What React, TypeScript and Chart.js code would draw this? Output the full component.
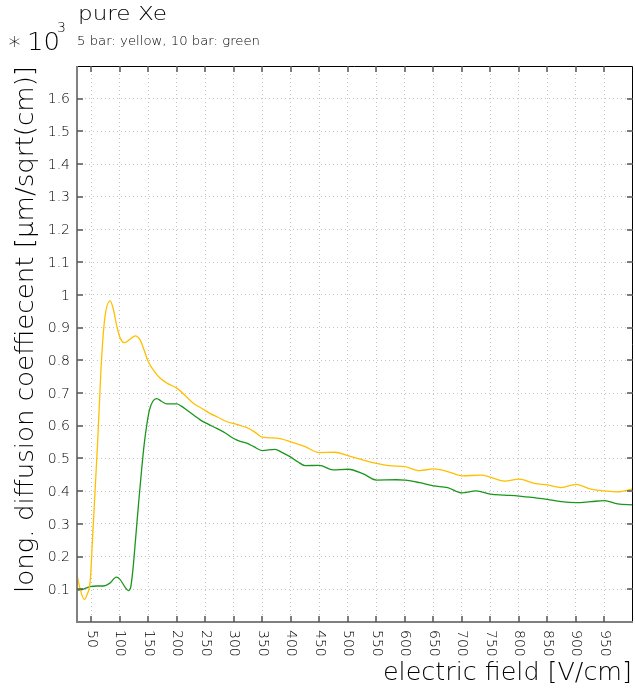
import React, { useEffect, useRef } from "react";
import { Chart, registerables } from "chart.js";

Chart.register(...registerables);

// ---- data (values in units of 10^3) ----
const yellowX = [25, 30.8, 37.8, 42.5, 48.3, 52.4, 61.7, 67, 73.4, 83.3, 89, 95, 100.8, 108.3, 118.3, 127, 135.8, 150, 160, 171, 185, 200, 215, 229, 245, 258, 272, 287, 305, 322, 335, 350, 375, 400, 425, 450, 477, 500, 527, 550, 573, 600, 626, 650, 675, 700, 734, 750, 775, 800, 827, 850, 874, 900, 926, 950, 973, 1000];
const yellowY = [0.144, 0.098, 0.069, 0.083, 0.128, 0.261, 0.567, 0.771, 0.924, 0.982, 0.954, 0.903, 0.868, 0.854, 0.865, 0.875, 0.862, 0.796, 0.768, 0.745, 0.728, 0.715, 0.692, 0.669, 0.652, 0.638, 0.626, 0.613, 0.604, 0.595, 0.583, 0.565, 0.562, 0.551, 0.536, 0.518, 0.519, 0.509, 0.495, 0.485, 0.478, 0.475, 0.463, 0.468, 0.46, 0.447, 0.449, 0.443, 0.431, 0.437, 0.424, 0.419, 0.411, 0.421, 0.406, 0.401, 0.398, 0.407];

const greenX = [25, 35, 48, 60, 71.5, 82, 94, 100, 108, 115, 119, 123, 128, 133, 138, 143, 148, 152, 158, 165, 173, 182.5, 200, 208, 217.5, 230, 241, 255, 270, 285, 299, 310, 322.5, 335, 350, 372, 385, 400, 412, 425, 450, 474, 500, 527, 550, 585, 600, 626, 650, 675, 700, 725, 750, 775, 800, 827, 850, 874, 900, 926, 950, 973, 1000];
const greenY = [0.096, 0.1, 0.108, 0.11, 0.11, 0.118, 0.137, 0.131, 0.11, 0.096, 0.105, 0.159, 0.26, 0.363, 0.46, 0.546, 0.61, 0.648, 0.675, 0.683, 0.675, 0.667, 0.667, 0.66, 0.648, 0.632, 0.618, 0.605, 0.592, 0.578, 0.562, 0.553, 0.547, 0.536, 0.524, 0.528, 0.518, 0.504, 0.49, 0.478, 0.479, 0.465, 0.467, 0.453, 0.434, 0.435, 0.434, 0.426, 0.416, 0.411, 0.395, 0.401, 0.391, 0.388, 0.385, 0.38, 0.375, 0.368, 0.365, 0.368, 0.371, 0.361, 0.358];

const xTickValues = [50, 100, 150, 200, 250, 300, 350, 400, 450, 500, 550, 600, 650, 700, 750, 800, 850, 900, 950];
const xTickLabels = ["50", "100", "150", "200", "250", "300", "350", "400", "450", "500", "550", "600", "650", "700", "750", "800", "850", "900", "950"];
const yTickValues = [0.1, 0.2, 0.3, 0.4, 0.5, 0.6, 0.7, 0.8, 0.9, 1.0, 1.1, 1.2, 1.3, 1.4, 1.5, 1.6];
const yTickLabels = ["0.1", "0.2", "0.3", "0.4", "0.5", "0.6", "0.7", "0.8", "0.9", "1", "1.1", "1.2", "1.3", "1.4", "1.5", "1.6"];

const titleText = "pure Xe";
const subtitleText = "5 bar: yellow, 10 bar: green";
const xTitleText = "electric field [V/cm]";
const yTitleText = "long. diffusion coeffiecent [\u03bcm/sqrt(cm)]";
const scaleStar = "\u2217";
const scaleBase = "10";
const scaleExp = "3";

const FONT = '"DejaVu Sans", "Liberation Sans", sans-serif';
const TEXT_COLOR = "#000";

function fitText(ctx: any, text: string, x: number, y: number, target: number, font: string) {
  ctx.save();
  ctx.font = font;
  if ("letterSpacing" in ctx) ctx.letterSpacing = "0px";
  const w0 = ctx.measureText(text).width;
  ctx.textAlign = "left";
  ctx.translate(x, y);
  ctx.scale(target / w0, 1);
  ctx.fillText(text, 0, 0);
  ctx.restore();
}

const decorPlugin = {
  id: "decor",
  afterDraw(chart: any) {
    const ctx = chart.ctx;
    const { left, right, top, bottom } = chart.chartArea;
    const xs = chart.scales.x;
    const ys = chart.scales.y;
    ctx.save();

    // frame
    ctx.lineCap = "butt";
    ctx.strokeStyle = "#000";
    ctx.lineWidth = 1;
    ctx.beginPath();
    ctx.moveTo(left, top + 0.5);
    ctx.lineTo(right - 0.5, top + 0.5);
    ctx.lineTo(right - 0.5, bottom);
    ctx.stroke();
    ctx.strokeStyle = "#808080";
    ctx.lineWidth = 2;
    ctx.beginPath();
    ctx.moveTo(left, top);
    ctx.lineTo(left, bottom);
    ctx.lineTo(right, bottom);
    ctx.stroke();

    // tick marks
    ctx.strokeStyle = "#555";
    ctx.lineWidth = 1.5;
    ctx.beginPath();
    xTickValues.forEach((v) => {
      const px = Math.round(xs.getPixelForValue(v));
      ctx.moveTo(px, bottom);
      ctx.lineTo(px, bottom - 6);
      ctx.moveTo(px, top);
      ctx.lineTo(px, top + 6);
    });
    yTickValues.forEach((v) => {
      const py = Math.round(ys.getPixelForValue(v));
      ctx.moveTo(left, py);
      ctx.lineTo(left + 6, py);
      ctx.moveTo(right, py);
      ctx.lineTo(right - 6, py);
    });
    ctx.stroke();

    ctx.fillStyle = TEXT_COLOR;

    // y tick labels
    ctx.font = "200 14px " + FONT;
    ctx.textAlign = "right";
    ctx.textBaseline = "middle";
    yTickValues.forEach((v, i) => {
      ctx.fillText(yTickLabels[i], left - 7, ys.getPixelForValue(v) + 1);
    });

    // x tick labels (rotated clockwise)
    ctx.textAlign = "left";
    ctx.textBaseline = "middle";
    xTickValues.forEach((v, i) => {
      const px = xs.getPixelForValue(v);
      ctx.save();
      ctx.translate(px, bottom + 8);
      ctx.rotate(Math.PI / 2);
      ctx.fillText(xTickLabels[i], 0, 0);
      ctx.restore();
    });

    ctx.textBaseline = "alphabetic";
    // axis titles
    fitText(ctx, xTitleText, 383, 680, 249, "200 24px " + FONT);
    ctx.save();
    ctx.translate(33, 593);
    ctx.rotate(-Math.PI / 2);
    fitText(ctx, yTitleText, 0, 0, 527, "200 24px " + FONT);
    ctx.restore();

    // exponent
    ctx.font = "200 24px " + FONT;
    ctx.textAlign = "left";
    ctx.fillText(scaleStar, 7, 49);
    fitText(ctx, scaleBase, 27, 50, 33, "200 24px " + FONT);
    ctx.font = "200 14px " + FONT;
    ctx.textAlign = "left";
    ctx.fillText(scaleExp, 57, 32);

    // title & subtitle
    fitText(ctx, titleText, 78, 20, 89, "200 20px " + FONT);
    fitText(ctx, subtitleText, 77, 45, 183, "200 12px " + FONT);

    ctx.restore();
  },
};

export default function App() {
  const canvasRef = useRef<HTMLCanvasElement | null>(null);

  useEffect(() => {
    const canvas = canvasRef.current;
    if (!canvas) return;
    const yellowData = yellowX.map((x, i) => ({ x, y: yellowY[i] }));
    const greenData = greenX.map((x, i) => ({ x, y: greenY[i] }));
    const gridCommon = {
      color: "#c4c4c4",
      lineWidth: 1,
      drawTicks: false,
    };
    const chart = new Chart(canvas, {
      type: "line",
      data: {
        datasets: [
          {
            label: "5 bar",
            data: yellowData,
            borderColor: "#ffbf00",
            borderWidth: 1.3,
            pointRadius: 0,
            cubicInterpolationMode: "monotone",
            fill: false,
          },
          {
            label: "10 bar",
            data: greenData,
            borderColor: "#1a961a",
            borderWidth: 1.3,
            pointRadius: 0,
            cubicInterpolationMode: "monotone",
            fill: false,
          },
        ],
      },
      options: {
        responsive: false,
        animation: false,
        devicePixelRatio: 1,
        events: [],
        layout: { padding: { left: 77, top: 66, right: 2, bottom: 69 } },
        plugins: {
          legend: { display: false },
          tooltip: { enabled: false },
          title: { display: false },
        },
        scales: {
          x: {
            type: "linear",
            min: 25,
            max: 1000,
            afterBuildTicks: (axis: any) => {
              axis.ticks = xTickValues.map((v) => ({ value: v }));
            },
            ticks: { display: false },
            grid: gridCommon,
            border: { display: false, dash: [1, 3] },
          },
          y: {
            type: "linear",
            min: 0,
            max: 1.7,
            afterBuildTicks: (axis: any) => {
              axis.ticks = yTickValues.map((v) => ({ value: v }));
            },
            ticks: { display: false },
            grid: gridCommon,
            border: { display: false, dash: [1, 3] },
          },
        },
      } as any,
      plugins: [decorPlugin],
    });
    return () => chart.destroy();
  }, []);

  return (
    <div style={{ position: "absolute", left: 0, top: 0, width: 635, height: 691, background: "#fff" }}>
      <canvas ref={canvasRef} width={635} height={691} style={{ display: "block" }} />
    </div>
  );
}
